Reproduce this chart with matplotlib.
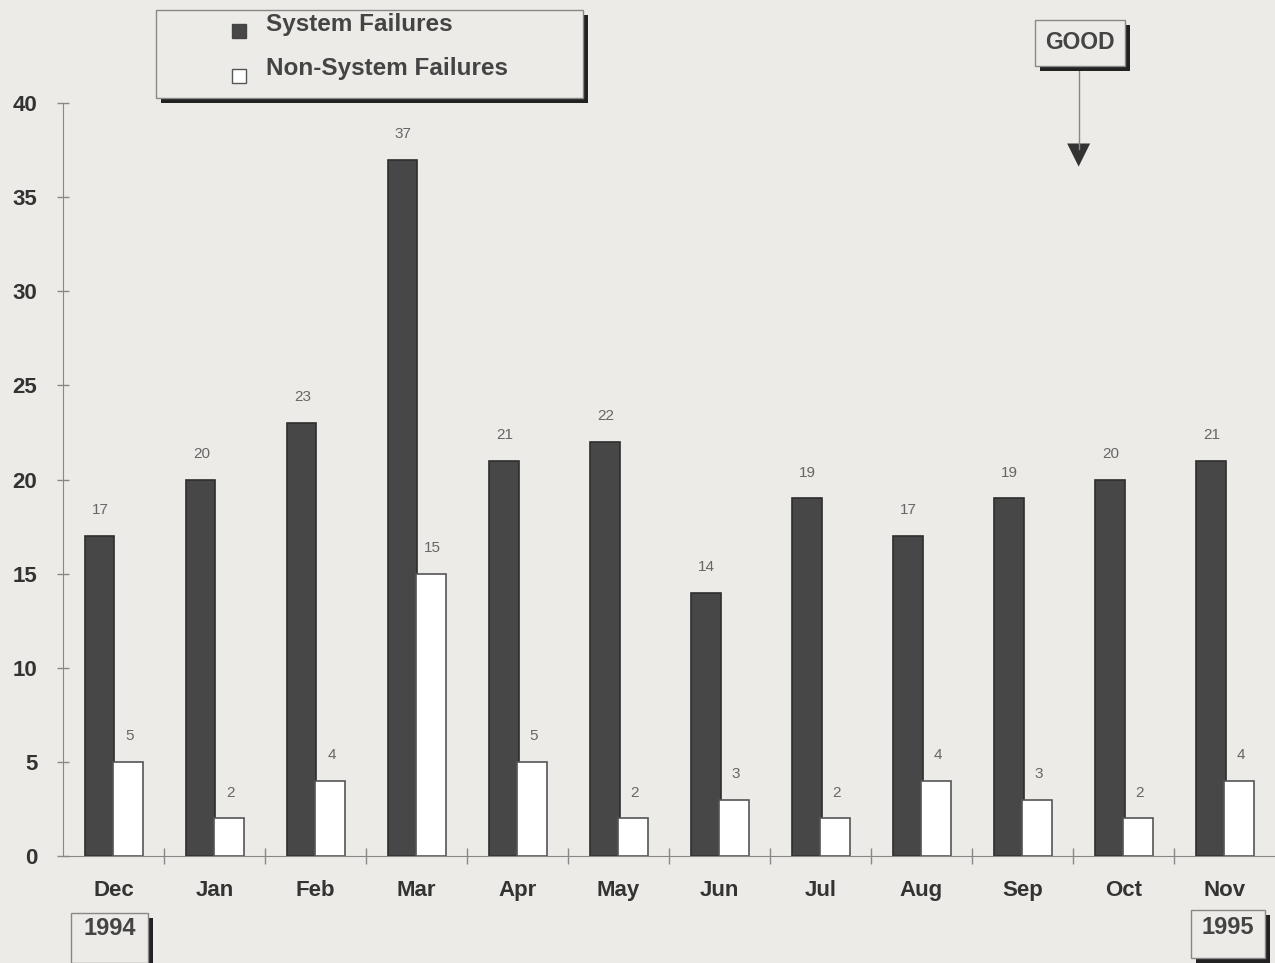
import matplotlib.pyplot as plt
import numpy as np
from matplotlib.patches import Rectangle, Polygon

# Daten
months = ['Dec', 'Jan', 'Feb', 'Mar', 'Apr', 'May', 'Jun', 'Jul', 'Aug', 'Sep', 'Oct', 'Nov']
system_failures = [17, 20, 23, 37, 21, 22, 14, 19, 17, 19, 20, 21]
non_system_failures = [5, 2, 4, 15, 5, 2, 3, 2, 4, 3, 2, 4]
y_ticks = [0, 5, 10, 15, 20, 25, 30, 35, 40]

bg = '#ecebe7'
dark = '#474747'
plt.rcParams['font.family'] = ['Liberation Sans', 'DejaVu Sans']

fig = plt.figure(figsize=(12.75, 9.63), dpi=100, facecolor=bg)
ax = fig.add_axes([0.0494, 0.111, 0.9506, 0.782], facecolor=bg)

x = np.arange(len(months))
w = 0.29
ax.bar(x - 0.135, system_failures, width=w, color=dark, edgecolor='#2e2e2e', linewidth=1.2)
ax.bar(x + 0.145, non_system_failures, width=w, color='white', edgecolor='#555555', linewidth=1.2)

# Werte über den Balken
for i in range(len(months)):
    ax.text(x[i] - 0.13, system_failures[i] + 1.0, str(system_failures[i]),
            ha='center', va='bottom', fontsize=11, color='#666666')
    ax.text(x[i] + 0.16, non_system_failures[i] + 1.0, str(non_system_failures[i]),
            ha='center', va='bottom', fontsize=11, color='#666666')

ax.set_xlim(-0.5, 11.5)
ax.set_ylim(0, 40)
ax.set_yticks(y_ticks)
ax.set_yticklabels([str(t) for t in y_ticks], fontsize=16, fontweight='bold', color='#333333')
ax.tick_params(axis='y', direction='inout', length=9, width=1, color='#888888', pad=14)

ax.set_xticks(x)
ax.set_xticklabels(months, fontsize=16, fontweight='bold', color='#333333')
ax.tick_params(axis='x', which='major', length=0, pad=17)
ax.set_xticks(np.arange(0.5, 11.5, 1), minor=True)
ax.tick_params(axis='x', which='minor', direction='inout', length=12, width=1, color='#888888')

for s in ['top', 'right']:
    ax.spines[s].set_visible(False)
ax.spines['left'].set_color('#888888')
ax.spines['bottom'].set_color('#888888')


def shadow_box(x0, y0, w0, h0, sh=0.004):
    fig.add_artist(Rectangle((x0 + sh, y0 - sh * 1.3), w0, h0, transform=fig.transFigure,
                             facecolor='#222222', edgecolor='none', zorder=5))
    fig.add_artist(Rectangle((x0, y0), w0, h0, transform=fig.transFigure,
                             facecolor=bg, edgecolor='#888888', linewidth=1, zorder=6))


# Legende
shadow_box(0.122, 0.898, 0.335, 0.092)
fig.add_artist(Rectangle((0.182, 0.961), 0.011, 0.014, transform=fig.transFigure,
                         facecolor=dark, edgecolor='#444444', zorder=7))
fig.add_artist(Rectangle((0.182, 0.914), 0.011, 0.014, transform=fig.transFigure,
                         facecolor='white', edgecolor='#555555', zorder=7))
fig.text(0.209, 0.975, 'System Failures', fontsize=17.5, fontweight='bold', color='#444444',
         va='center', zorder=8)
fig.text(0.209, 0.929, 'Non-System Failures', fontsize=17.5, fontweight='bold', color='#444444',
         va='center', zorder=8)

# GOOD-Pfeil
shadow_box(0.812, 0.931, 0.070, 0.048)
fig.text(0.847, 0.956, 'GOOD', fontsize=16.5, fontweight='bold', color='#444444',
         ha='center', va='center', zorder=8)
fig.add_artist(plt.Line2D([0.846, 0.846], [0.929, 0.845], transform=fig.transFigure,
                          color='#888888', linewidth=1))
fig.add_artist(Polygon([[0.837, 0.851], [0.855, 0.851], [0.846, 0.827]], closed=True,
                       transform=fig.transFigure, facecolor='#333333', edgecolor='none'))

# Jahreskästchen
shadow_box(0.056, 0.0, 0.060, 0.052)
fig.text(0.086, 0.036, '1994', fontsize=17, fontweight='bold', color='#444444',
         ha='center', va='center', zorder=8)
shadow_box(0.934, 0.005, 0.058, 0.050)
fig.text(0.963, 0.037, '1995', fontsize=17, fontweight='bold', color='#444444',
         ha='center', va='center', zorder=8)

fig.savefig('out.png', dpi=100, facecolor=bg)
